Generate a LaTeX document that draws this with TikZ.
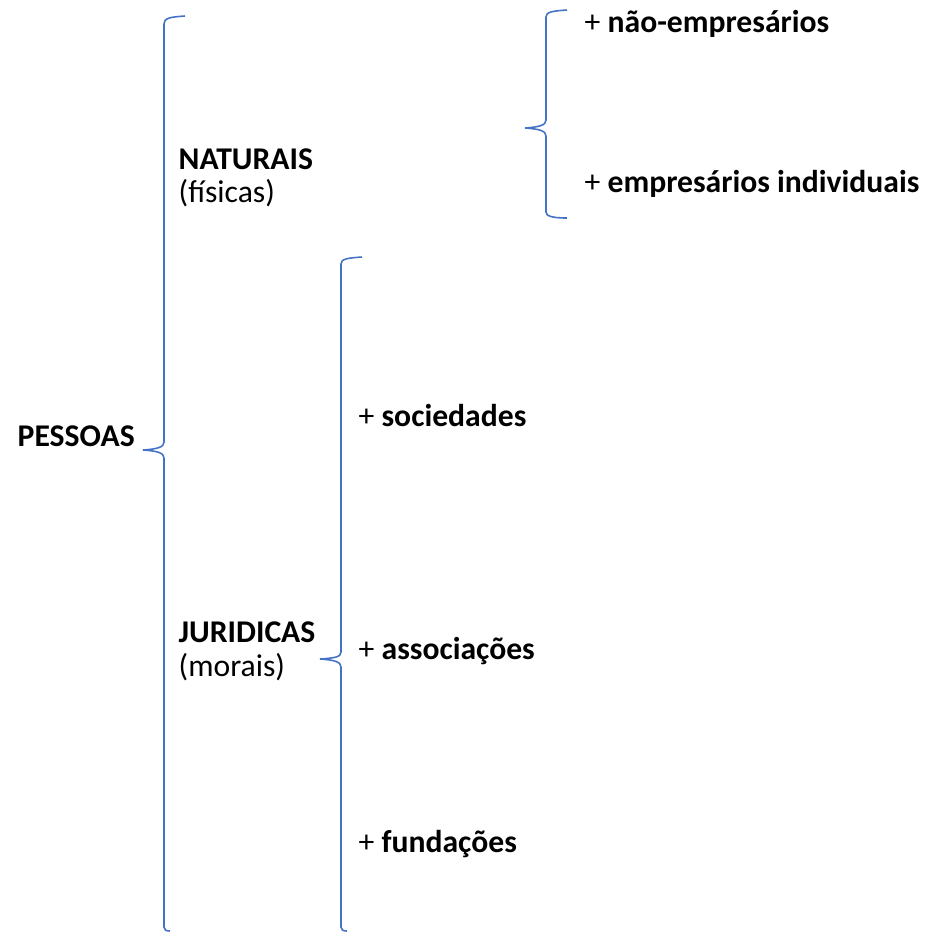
\documentclass[tikz,border=0pt]{standalone}
\usepackage{fontspec}
\setmainfont{Carlito}
\begin{document}
\begin{tikzpicture}[x=0.01cm,y=-0.01cm,
  lbl/.style={anchor=base west,inner sep=0pt,font=\fontsize{9}{11}\selectfont},
  brc/.style={draw,line width=0.45pt,color={rgb,255:red,68;green,114;blue,196}}]
\useasboundingbox (0,0) rectangle (935,932);
% big brace
\draw[brc] (185,16) .. controls (170,17) and (164,18) .. (164,24) -- (164,442)
  .. controls (164,447) and (158,449) .. (143,450)
  .. controls (158,451) and (164,453) .. (164,458) -- (164,927)
  .. controls (164,930) and (166,931) .. (170,931);
% small brace (top right)
\draw[brc] (567,10) .. controls (552,11) and (546,12) .. (546,17) -- (546,120)
  .. controls (546,125) and (540,127) .. (525,128)
  .. controls (540,129) and (546,131) .. (546,136) -- (546,212)
  .. controls (546,216) and (552,218) .. (567,218);
% middle brace
\draw[brc] (362,257) .. controls (347,258) and (341,259) .. (341,264) -- (341,652)
  .. controls (341,657) and (335,658) .. (320,659)
  .. controls (335,660) and (341,662) .. (341,667) -- (341,927)
  .. controls (341,930) and (343,931) .. (347,931);
% texts
\node[lbl] (pes) at (17,446) {\bfseries PESSOAS};
\node[lbl] (nat) at (178,169) {\bfseries NATURAIS};
\node[lbl] (fis) at (178,202) {(físicas)};
\node[lbl] (jur) at (178,642) {\bfseries JURIDICAS};
\node[lbl] (mor) at (178,676) {(morais)};
\node[lbl] (nemp) at (584,32) {+ \textbf{não-empresários}};
\node[lbl] (eind) at (584,192) {+ \textbf{empresários individuais}};
\node[lbl] (soc) at (358,426) {+ \textbf{sociedades}};
\node[lbl] (ass) at (358,659) {+ \textbf{associações}};
\node[lbl] (fun) at (358,852) {+ \textbf{fundações}};
\end{tikzpicture}
\end{document}
